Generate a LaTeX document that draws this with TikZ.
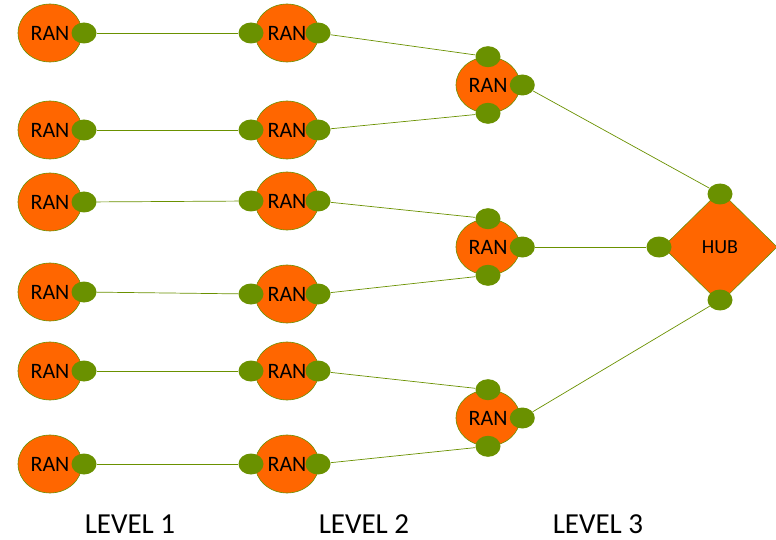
\documentclass[tikz,border=0pt]{standalone}
\usepackage{fontspec}
\setmainfont{Carlito}
\usetikzlibrary{shapes.geometric,positioning}
\definecolor{ranorange}{HTML}{FF6600}
\definecolor{portgreen}{HTML}{6A9100}
\tikzstyle{ran} = [ellipse, draw=portgreen, line width=0.6pt, fill=ranorange, minimum width=64pt, minimum height=58pt, inner sep=0pt, font=\fontsize{22}{22}\selectfont]
\tikzstyle{hub} = [diamond, draw=portgreen, line width=0.6pt, fill=ranorange, minimum width=114pt, minimum height=112pt, inner sep=0pt, outer sep=0pt, font=\fontsize{20}{20}\selectfont]
\tikzstyle{port} = [ellipse, fill=portgreen, minimum width=25pt, minimum height=21pt, inner sep=0pt]
\tikzstyle{link} = [draw=portgreen, line width=0.7pt]
\tikzstyle{level} = [font=\fontsize{29}{29}\selectfont]

\begin{document}
\begin{tikzpicture}[x=1pt, y=-1pt]
    \useasboundingbox (0,0) rectangle (776,540);

    % level 1
    \node[ran] (a1) at (50,33) {RAN};
    \node[ran] (a2) at (50,130) {RAN};
    \node[ran] (a3) at (50,202) {RAN};
    \node[ran] (a4) at (50,292) {RAN};
    \node[ran] (a5) at (50,371) {RAN};
    \node[ran] (a6) at (50,464) {RAN};
    \node[port] (a1o) at (84,33) {};
    \node[port] (a2o) at (84,130) {};
    \node[port] (a3o) at (84,202) {};
    \node[port] (a4o) at (84,292) {};
    \node[port] (a5o) at (84,371) {};
    \node[port] (a6o) at (84,464) {};

    % level 2
    \node[ran] (b1) at (287,33) {RAN};
    \node[ran] (b2) at (287,130) {RAN};
    \node[ran] (b3) at (287,201) {RAN};
    \node[ran] (b4) at (287,294) {RAN};
    \node[ran] (b5) at (287,371) {RAN};
    \node[ran] (b6) at (287,464) {RAN};
    \node[port] (b1i) at (251,33) {};
    \node[port] (b2i) at (251,130) {};
    \node[port] (b3i) at (251,201) {};
    \node[port] (b4i) at (251,294) {};
    \node[port] (b5i) at (251,371) {};
    \node[port] (b6i) at (251,464) {};
    \node[port] (b1o) at (318,33) {};
    \node[port] (b2o) at (318,130) {};
    \node[port] (b3o) at (318,201) {};
    \node[port] (b4o) at (318,294) {};
    \node[port] (b5o) at (318,371) {};
    \node[port] (b6o) at (318,464) {};

    % level 3
    \node[ran, minimum height=56pt] (c1) at (488,85) {RAN};
    \node[ran, minimum height=56pt] (c2) at (488,247) {RAN};
    \node[ran, minimum height=56pt] (c3) at (488,418) {RAN};
    \node[port] (c1t) at (c1.north) {};
    \node[port] (c1b) at (c1.south) {};
    \node[port] (c1o) at ([xshift=2pt]c1.east) {};
    \node[port] (c2t) at (c2.north) {};
    \node[port] (c2b) at (c2.south) {};
    \node[port] (c2o) at ([xshift=2pt]c2.east) {};
    \node[port] (c3t) at (c3.north) {};
    \node[port] (c3b) at (c3.south) {};
    \node[port] (c3o) at ([xshift=2pt]c3.east) {};

    % hub
    \node[hub] (hub) at (720,247) {HUB};
    \node[port] (hubt) at (720,194) {};
    \node[port] (hubl) at (659,247) {};
    \node[port] (hubb) at (720,300) {};

    \draw[link] (a1o) -- (b1i);
    \draw[link] (a2o) -- (b2i);
    \draw[link] (a3o) -- (b3i);
    \draw[link] (a4o) -- (b4i);
    \draw[link] (a5o) -- (b5i);
    \draw[link] (a6o) -- (b6i);
    \draw[link] (b1o) -- (c1t);
    \draw[link] (b2o) -- (c1b);
    \draw[link] (b3o) -- (c2t);
    \draw[link] (b4o) -- (c2b);
    \draw[link] (b5o) -- (c3t);
    \draw[link] (b6o) -- (c3b);
    \draw[link] (c1o) -- (hubt);
    \draw[link] (c2o) -- (hubl);
    \draw[link] (c3o) -- (hubb);

    \node[level] (lev1) at (130,524) {LEVEL 1};
    \node[level] (lev2) at (364,524) {LEVEL 2};
    \node[level] (lev3) at (598,524) {LEVEL 3};
\end{tikzpicture}
\end{document}
